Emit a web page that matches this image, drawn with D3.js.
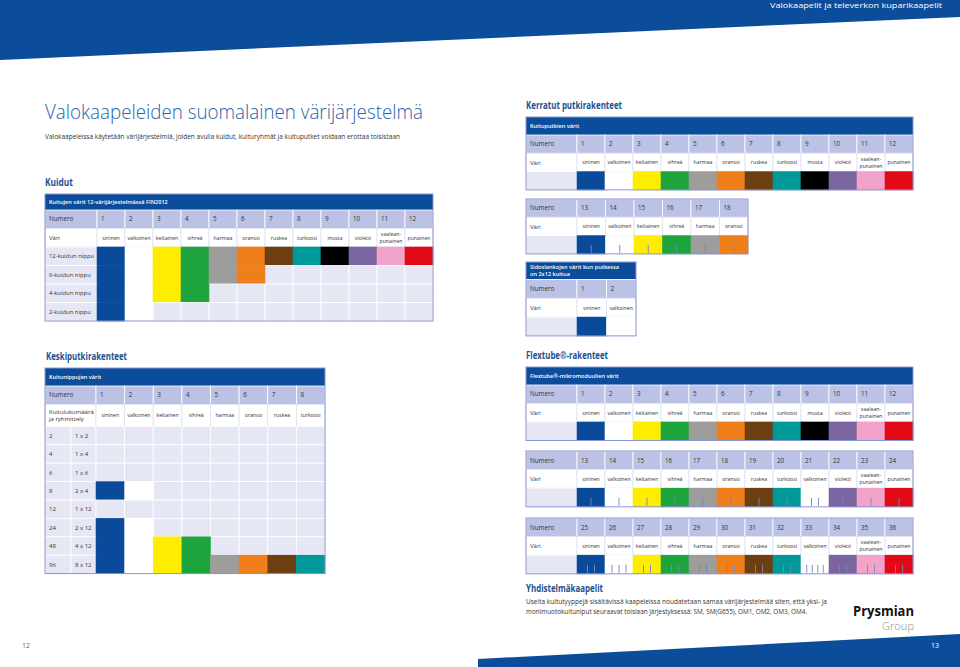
<!DOCTYPE html>
<html><head><meta charset="utf-8">
<script src="https://cdn.jsdelivr.net/npm/d3@7"></script>
<style>body{margin:0;background:#fff}svg{display:block;font-family:"Open Sans","Noto Sans",sans-serif}</style>
</head><body><svg id="c" width="960" height="667"></svg>
<script>
// ---------- DATA ----------
const colorNames = ["sininen","valkoinen","keltainen","vihreä","harmaa","oranssi","ruskea","turkoosi","musta","violetti","vaalean-punainen","punainen"];
const fiberNumbers = [1,2,3,4,5,6,7,8,9,10,11,12];
const fiberColors = ["sininen","valkoinen","keltainen","vihreä","harmaa","oranssi","ruskea","turkoosi","musta","violetti","vaalean-punainen","punainen"];
const bundleLabels = ["12-kuidun nippu","6-kuidun nippu","4-kuidun nippu","2-kuidun nippu"];
const bundleSizes = [12,6,4,2];

const tubeNumbers = [1,2,3,4,5,6,7,8,9,10,11,12];
const tubeColors = ["sininen","valkoinen","keltainen","vihreä","harmaa","oranssi","ruskea","turkoosi","musta","violetti","vaalean-punainen","punainen"];
const tubeNumbers2 = [13,14,15,16,17,18];
const tubeColors2 = ["sininen","valkoinen","keltainen","vihreä","harmaa","oranssi"];
const tubeRings2 = [1,1,1,1,1,1];

const binderNumbers = [1,2];
const binderColors = ["sininen","valkoinen"];

const centralNumbers = [1,2,3,4,5,6,7,8];
const centralColors = ["sininen","valkoinen","keltainen","vihreä","harmaa","oranssi","ruskea","turkoosi"];
const centralCounts = ["2","4","6","8","12","24","48","96"];
const centralGroups = ["1 x 2","1 x 4","1 x 6","2 x 4","1 x 12","2 x 12","4 x 12","8 x 12"];
const centralFilled = [0,0,0,2,0,2,4,8];

const flexNumbers1 = [1,2,3,4,5,6,7,8,9,10,11,12];
const flexColors1 = ["sininen","valkoinen","keltainen","vihreä","harmaa","oranssi","ruskea","turkoosi","musta","violetti","vaalean-punainen","punainen"];
const flexRings1 = [0,0,0,0,0,0,0,0,0,0,0,0];
const flexNumbers2 = [13,14,15,16,17,18,19,20,21,22,23,24];
const flexColors2 = ["sininen","valkoinen","keltainen","vihreä","harmaa","oranssi","ruskea","turkoosi","valkoinen","violetti","vaalean-punainen","punainen"];
const flexRings2 = [1,1,1,1,1,1,1,1,2,1,1,1];
const flexNumbers3 = [25,26,27,28,29,30,31,32,33,34,35,36];
const flexColors3 = ["sininen","valkoinen","keltainen","vihreä","harmaa","oranssi","ruskea","turkoosi","valkoinen","violetti","vaalean-punainen","punainen"];
const flexRings3 = [2,3,2,2,2,2,2,2,4,2,2,2];

// ---------- STYLE ----------
const BLUE = "#0b4c9b", HEAD = "#bcc2e5", EMPTY = "#e5e7f5", BORDER = "#8996cf", TXT = "#333", TITLE = "#1e4f8f";
const palette = d3.scaleOrdinal().domain(colorNames)
  .range(["#0a4a9b","#ffffff","#ffed00","#1ea43c","#9d9d9c","#ee7f1a","#6b3f10","#00999a","#000000","#7b65a1","#f2a3c9","#e30a17"]);

const svg = d3.select("#c");

// page bands
svg.append("path").attr("d","M0,0H960V17L0,60Z").attr("fill",BLUE);
svg.append("path").attr("d","M478,667V659L960,634V667Z").attr("fill",BLUE);
svg.append("text").attr("x",942).attr("y",8).attr("text-anchor","end").attr("font-size",8)
  .attr("fill","#fff").attr("textLength",172).attr("lengthAdjust","spacingAndGlyphs")
  .text("Valokaapelit ja televerkon kuparikaapelit");
svg.append("text").attr("x",22).attr("y",648).attr("font-size",7).attr("fill","#666").text("12");
svg.append("text").attr("x",931).attr("y",648).attr("font-size",7).attr("fill","#fff").text("13");

function txt(x,y,s,o){
  const t = svg.append("text").attr("x",x).attr("y",y).text(s);
  Object.entries(o||{}).forEach(([k,v])=>t.attr(k,v));
  return t;
}
// titles
txt(45,119,"Valokaapeleiden suomalainen värijärjestelmä",{"font-size":20,"font-weight":300,fill:"#2563ad",textLength:378,lengthAdjust:"spacingAndGlyphs"});
txt(45,139,"Valokaapeleissa käytetään värijärjestelmiä, joiden avulla kuidut, kuituryhmät ja kuituputket voidaan erottaa toisistaan",{"font-size":6.8,fill:TXT,textLength:355,lengthAdjust:"spacingAndGlyphs"});
const sec = (x,y,s,w)=>txt(x,y,s,{"font-size":10,"font-weight":700,fill:TITLE,textLength:w,lengthAdjust:"spacingAndGlyphs"});
sec(45,186,"Kuidut",28);
sec(526,109,"Kerratut putkirakenteet",96);
sec(46,360,"Keskiputkirakenteet",81);
sec(526,359,"Flextube®-rakenteet",82);
sec(526,592,"Yhdistelmäkaapelit",77);
txt(526,604,"Useita kuitutyyppejä sisältävissä kaapeleissa noudatetaan samaa värijärjestelmää siten, että yksi- ja",{"font-size":7,fill:TXT,textLength:301,lengthAdjust:"spacingAndGlyphs"});
txt(526,614,"monimuotokuituniput seuraavat toisiaan järjestyksessä: SM, SM(G655), OM1, OM2, OM3, OM4.",{"font-size":7,fill:TXT,textLength:281,lengthAdjust:"spacingAndGlyphs"});
// logo
txt(914,616,"Prysmian",{"font-size":13.5,"font-weight":700,fill:"#111","text-anchor":"end",textLength:61,lengthAdjust:"spacingAndGlyphs"});
txt(914,630,"Group",{"font-size":10,"font-weight":300,fill:"#8a8a8a","text-anchor":"end",textLength:32,lengthAdjust:"spacingAndGlyphs"});

// ---------- TABLE ----------
function drawTable(o){
  const g = svg.append("g");
  const x = d3.scaleBand().domain(o.numbers).range([o.x + o.firstW, o.x + o.w]);
  let yy = o.y;
  if (o.header){
    g.append("rect").attr("x",o.x).attr("y",yy).attr("width",o.w).attr("height",o.headerH).attr("fill",BLUE);
    o.header.forEach((t,i)=>g.append("text").attr("x",o.x+4)
      .attr("y",yy+o.headerH/2+(i-(o.header.length-1)/2)*7).attr("dy","0.35em")
      .attr("font-size",5.6).attr("font-weight",600).attr("fill","#fff").text(t));
    yy += o.headerH;
  }
  const rows = [{kind:"num",h:o.rowH},{kind:"name",h:o.nameH||o.rowH,label:o.nameLabel||["Väri"]}];
  o.data.forEach(d=>rows.push(Object.assign({kind:"data",h:o.rowH},d)));
  rows.forEach(r=>{ r.y=yy; yy+=r.h; });

  rows.forEach(r=>{
    const cy = r.y + r.h/2;
    if (r.kind==="num"){
      g.append("rect").attr("x",o.x).attr("y",r.y).attr("width",o.firstW).attr("height",r.h).attr("fill",HEAD).attr("stroke","#fff").attr("stroke-width",0.8);
      g.append("text").attr("x",o.x+4).attr("y",cy).attr("dy","0.35em").attr("font-size",6.3).attr("fill",TXT).text("Numero");
      g.selectAll(null).data(o.numbers).join("rect").attr("x",d=>x(d)).attr("y",r.y).attr("width",x.bandwidth()).attr("height",r.h)
        .attr("fill",HEAD).attr("stroke","#fff").attr("stroke-width",0.8);
      g.selectAll(null).data(o.numbers).join("text").attr("x",d=>x(d)+4).attr("y",cy).attr("dy","0.35em")
        .attr("font-size",6.3).attr("fill",TXT).text(d=>d);
    } else if (r.kind==="name"){
      g.append("rect").attr("x",o.x).attr("y",r.y).attr("width",o.firstW).attr("height",r.h).attr("fill","#fff").attr("stroke","#dde0f0").attr("stroke-width",0.8);
      r.label.forEach((t,i)=>g.append("text").attr("x",o.x+4).attr("y",cy+(i-(r.label.length-1)/2)*7.2).attr("dy","0.35em")
        .attr("font-size",6).attr("fill",TXT).text(t));
      const cells = o.numbers.map((n,i)=>({n,c:o.colors[i]}));
      g.selectAll(null).data(cells).join("rect").attr("x",d=>x(d.n)).attr("y",r.y).attr("width",x.bandwidth()).attr("height",r.h)
        .attr("fill","#fff").attr("stroke","#dde0f0").attr("stroke-width",0.8);
      cells.forEach(d=>{
        const parts = d.c.indexOf("-")>0 ? [d.c.split("-")[0]+"-", d.c.split("-")[1]] : [d.c];
        parts.forEach((p,i)=>g.append("text").attr("x",x(d.n)+x.bandwidth()/2)
          .attr("y",cy+(i-(parts.length-1)/2)*6.6).attr("dy","0.35em").attr("text-anchor","middle")
          .attr("font-size",5.2).attr("fill",TXT).text(p));
      });
    } else {
      if (r.sub){
        g.append("rect").attr("x",o.x).attr("y",r.y).attr("width",o.subW).attr("height",r.h).attr("fill",EMPTY).attr("stroke","#fff").attr("stroke-width",0.8);
        g.append("rect").attr("x",o.x+o.subW).attr("y",r.y).attr("width",o.firstW-o.subW).attr("height",r.h).attr("fill",EMPTY).attr("stroke","#fff").attr("stroke-width",0.8);
        g.append("text").attr("x",o.x+4).attr("y",cy).attr("dy","0.35em").attr("font-size",6).attr("fill",TXT).text(r.label);
        g.append("text").attr("x",o.x+o.subW+4).attr("y",cy).attr("dy","0.35em").attr("font-size",6).attr("fill",TXT).text(r.sub);
      } else {
        g.append("rect").attr("x",o.x).attr("y",r.y).attr("width",o.firstW).attr("height",r.h).attr("fill",EMPTY).attr("stroke","#fff").attr("stroke-width",0.8);
        if (r.label) g.append("text").attr("x",o.x+4).attr("y",cy).attr("dy","0.35em").attr("font-size",5.9).attr("fill",TXT).text(r.label);
      }
      const cells = o.numbers.map((n,i)=>({n, c: i < r.filled ? o.colors[i] : null, ring: o.rings ? o.rings[i] : 0}));
      g.selectAll(null).data(cells.filter(d=>!d.c)).join("rect").attr("x",d=>x(d.n)).attr("y",r.y).attr("width",x.bandwidth()).attr("height",r.h)
        .attr("fill",EMPTY).attr("stroke","#fff").attr("stroke-width",0.8);
      g.selectAll(null).data(cells.filter(d=>d.c)).join("rect").attr("x",d=>x(d.n)-0.3).attr("y",r.y-0.3).attr("width",x.bandwidth()+0.6).attr("height",r.h+0.6)
        .attr("fill",d=>palette(d.c));
      cells.filter(d=>d.c && d.ring>0).forEach(d=>{
        const sp = d.ring>=4 ? 5.5 : 7;
        d3.range(d.ring).forEach(k=>{
          const tx = x(d.n)+x.bandwidth()/2+(k-(d.ring-1)/2)*sp;
          g.append("line").attr("x1",tx).attr("x2",tx).attr("y1",r.y+r.h-9).attr("y2",r.y+r.h-1)
            .attr("stroke","#7585c4").attr("stroke-width",0.9);
        });
      });
    }
  });
  g.append("rect").attr("x",o.x).attr("y",o.y).attr("width",o.w).attr("height",yy-o.y)
    .attr("fill","none").attr("stroke",BORDER).attr("stroke-width",1);
}

// Kuidut
drawTable({x:45,y:194,w:388,firstW:52,header:["Kuitujen värit 12-värijärjestelmässä FIN2012"],headerH:16,rowH:18.5,
  numbers:fiberNumbers,colors:fiberColors,
  data:bundleLabels.map((l,i)=>({label:l,filled:bundleSizes[i]}))});
// Kerratut
drawTable({x:526,y:117,w:387,firstW:51,header:["Kuituputkien värit"],headerH:18,rowH:18.3,
  numbers:tubeNumbers,colors:tubeColors,data:[{label:"",filled:tubeNumbers.length}]});
drawTable({x:526,y:199,w:222,firstW:51,rowH:18.3,
  numbers:tubeNumbers2,colors:tubeColors2,rings:tubeRings2,data:[{label:"",filled:tubeNumbers2.length}]});
drawTable({x:526,y:262,w:110,firstW:51,header:["Sidoslankojen värit kun putkessa","on 2x12 kuitua"],headerH:17.5,rowH:18.8,
  numbers:binderNumbers,colors:binderColors,data:[{label:"",filled:binderNumbers.length}]});
// Keskiputki
drawTable({x:45,y:368,w:280,firstW:51,subW:26,header:["Kuitunippujen värit"],headerH:18,rowH:18.4,nameH:22,
  nameLabel:["Kuitulukumäärä","ja ryhmittely"],
  numbers:centralNumbers,colors:centralColors,
  data:centralCounts.map((c,i)=>({label:c,sub:centralGroups[i],filled:centralFilled[i]}))});
// Flextube
drawTable({x:526,y:367,w:387,firstW:51,header:["Flextube®-mikromoduulien värit"],headerH:18,rowH:18.5,
  numbers:flexNumbers1,colors:flexColors1,rings:flexRings1,data:[{label:"",filled:12}]});
drawTable({x:526,y:451,w:387,firstW:51,rowH:18.6,
  numbers:flexNumbers2,colors:flexColors2,rings:flexRings2,data:[{label:"",filled:12}]});
drawTable({x:526,y:518,w:387,firstW:51,rowH:18.6,
  numbers:flexNumbers3,colors:flexColors3,rings:flexRings3,data:[{label:"",filled:12}]});
</script></body></html>
